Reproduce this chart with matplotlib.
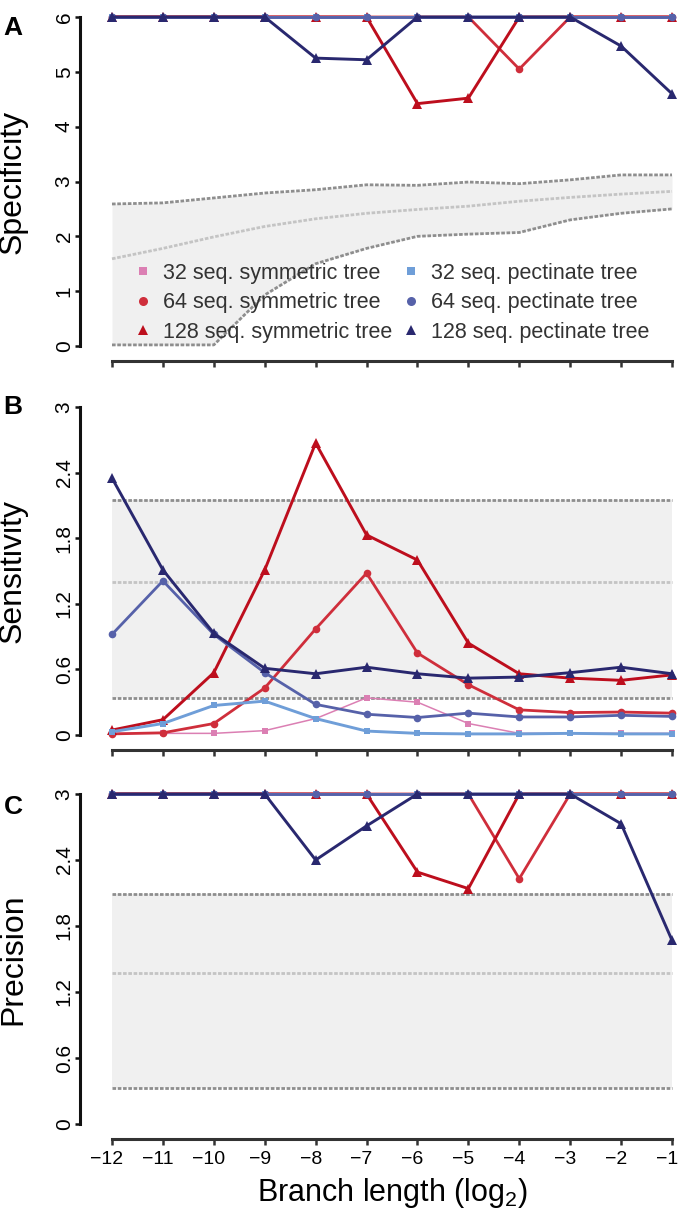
import matplotlib
matplotlib.use('Agg')
import matplotlib.pyplot as plt
from matplotlib.lines import Line2D
from matplotlib.transforms import ScaledTranslation
import numpy as np

plt.rcParams['font.family'] = ['Liberation Sans', 'DejaVu Sans']
plt.rcParams['mathtext.fontset'] = 'custom'
plt.rcParams['mathtext.rm'] = 'Liberation Sans'
plt.rcParams['mathtext.it'] = 'Liberation Sans'

# branch length (log2)
branch = [-12, -11, -10, -9, -8, -7, -6, -5, -4, -3, -2, -1]

series_names = ['32 seq. symmetric tree', '64 seq. symmetric tree', '128 seq. symmetric tree',
                '32 seq. pectinate tree', '64 seq. pectinate tree', '128 seq. pectinate tree']

# A - specificity
spec_sym32 = [6, 6, 6, 6, 6, 6, 6, 6, 6, 6, 6, 6]
spec_sym64 = [6, 6, 6, 6, 6, 6, 6, 6, 5.05, 6, 6, 6]
spec_sym128 = [6, 6, 6, 6, 6, 6, 4.42, 4.52, 6, 6, 6, 6]
spec_pec32 = [6, 6, 6, 6, 6, 6, 6, 6, 6, 6, 6, 6]
spec_pec64 = [6, 6, 6, 6, 6, 6, 6, 6, 6, 6, 6, 6]
spec_pec128 = [6, 6, 6, 6, 5.25, 5.22, 6, 6, 6, 6, 5.47, 4.60]
spec_hi = [2.59, 2.61, 2.70, 2.79, 2.85, 2.94, 2.93, 2.99, 2.96, 3.03, 3.12, 3.12]
spec_mid = [1.59, 1.78, 1.99, 2.18, 2.32, 2.42, 2.49, 2.55, 2.64, 2.71, 2.77, 2.82]
spec_lo = [0.02, 0.02, 0.02, 0.93, 1.50, 1.78, 2.00, 2.04, 2.07, 2.30, 2.42, 2.50]

# B - sensitivity
sens_sym32 = [0.015, 0.015, 0.015, 0.04, 0.15, 0.34, 0.30, 0.105, 0.015, 0.015, 0.015, 0.015]
sens_sym64 = [0.01, 0.02, 0.105, 0.43, 0.97, 1.48, 0.75, 0.46, 0.23, 0.205, 0.21, 0.20]
sens_sym128 = [0.045, 0.14, 0.57, 1.51, 2.67, 1.83, 1.60, 0.84, 0.56, 0.52, 0.50, 0.55]
sens_pec32 = [0.03, 0.105, 0.27, 0.31, 0.15, 0.036, 0.015, 0.01, 0.01, 0.015, 0.01, 0.01]
sens_pec64 = [0.92, 1.41, 0.92, 0.57, 0.28, 0.19, 0.16, 0.20, 0.165, 0.165, 0.18, 0.17]
sens_pec128 = [2.35, 1.51, 0.93, 0.61, 0.56, 0.62, 0.56, 0.52, 0.53, 0.57, 0.62, 0.56]
sens_hi = [2.15] * 12
sens_mid = [1.40] * 12
sens_lo = [0.34] * 12

# C - precision
prec_sym32 = [3, 3, 3, 3, 3, 3, 3, 3, 3, 3, 3, 3]
prec_sym64 = [3, 3, 3, 3, 3, 3, 3, 3, 2.23, 3, 3, 3]
prec_sym128 = [3, 3, 3, 3, 3, 3, 2.29, 2.14, 3, 3, 3, 3]
prec_pec32 = [3, 3, 3, 3, 3, 3, 3, 3, 3, 3, 3, 3]
prec_pec64 = [3, 3, 3, 3, 3, 3, 3, 3, 3, 3, 3, 3]
prec_pec128 = [3, 3, 3, 3, 2.40, 2.71, 3, 3, 3, 3, 2.73, 1.67]
prec_hi = [2.09] * 12
prec_mid = [1.37] * 12
prec_lo = [0.33] * 12

colors = ['#DB7FB3', '#CF2E3B', '#BD0E1D', '#6F9ED8', '#5661A9', '#29286F']
markers = ['s', 'o', '^', 's', 'o', '^']
msizes = [5, 5.5, 6.8, 5, 5.5, 6.8]
lwidths = [1.1, 2.0, 2.1, 2.1, 2.0, 2.1]

W, H = 680, 1214
fig = plt.figure(figsize=(W / 100, H / 100), dpi=100)

x_left_px, x_right_px = 80, 680
x12_px, x1_px = 112, 672
unit_x = (x1_px - x12_px) / 11.0
xlim = (-12 - (x12_px - x_left_px) / unit_x, -1 + (x_right_px - x1_px) / unit_x)


def make_panel(top_px, zero_px, ymax):
    unit = (zero_px - top_px) / ymax
    ax_top = top_px - 12
    ax_bot = zero_px + 15
    ax = fig.add_axes([x_left_px / W, 1 - ax_bot / H, (x_right_px - x_left_px) / W, (ax_bot - ax_top) / H])
    ax.set_xlim(*xlim)
    ax.set_ylim(-(ax_bot - zero_px) / unit, ymax + (top_px - ax_top) / unit)
    ax.patch.set_alpha(0)
    for s in ['top', 'right']:
        ax.spines[s].set_visible(False)
    ax.spines['left'].set_bounds(0, ymax)
    ax.spines['bottom'].set_bounds(-12, -1)
    ax.spines['left'].set_linewidth(2.2)
    ax.spines['bottom'].set_linewidth(2.2)
    ax.spines['left'].set_color('#111111')
    ax.spines['bottom'].set_color('#333333')
    ax.set_xticks(branch)
    ax.tick_params(axis='x', length=4, width=1.8, color='#333333', labelsize=14, pad=5)
    ax.tick_params(axis='y', length=3.5, width=1.8, color='#111111', labelsize=15,
                   labelrotation=90, pad=1)
    return ax


def draw(ax, hi, mid, lo, values):
    ax.fill_between(branch, lo, hi, color='#F0F0F0', lw=0, zorder=1)
    ax.plot(branch, hi, color='#8E8E8E', lw=2.0, ls=(0, (1.3, 0.6)), zorder=2)
    ax.plot(branch, lo, color='#8E8E8E', lw=2.0, ls=(0, (1.3, 0.6)), zorder=2)
    ax.plot(branch, mid, color='#C4C4C4', lw=2.0, ls=(0, (1.3, 0.6)), zorder=2)
    for i, v in enumerate(values):
        ax.plot(branch, v, color=colors[i], lw=lwidths[i], marker=markers[i],
                ms=msizes[i], mew=0, zorder=3 + i, clip_on=False)


axA = make_panel(17, 346, 6)
draw(axA, spec_hi, spec_mid, spec_lo,
     [spec_sym32, spec_sym64, spec_sym128, spec_pec32, spec_pec64, spec_pec128])
axA.set_yticks([0, 1, 2, 3, 4, 5, 6])
axA.set_yticklabels(['0', '1', '2', '3', '4', '5', '6'], va='center')
axA.set_xticklabels([])

axB = make_panel(407, 735, 3)
draw(axB, sens_hi, sens_mid, sens_lo,
     [sens_sym32, sens_sym64, sens_sym128, sens_pec32, sens_pec64, sens_pec128])
axB.set_yticks([0, 0.6, 1.2, 1.8, 2.4, 3])
axB.set_yticklabels(['0', '0.6', '1.2', '1.8', '2.4', '3'], va='center')
axB.set_xticklabels([])

axC = make_panel(794, 1124, 3)
draw(axC, prec_hi, prec_mid, prec_lo,
     [prec_sym32, prec_sym64, prec_sym128, prec_pec32, prec_pec64, prec_pec128])
axC.set_yticks([0, 0.6, 1.2, 1.8, 2.4, 3])
axC.set_yticklabels(['0', '0.6', '1.2', '1.8', '2.4', '3'], va='center')
axC.set_xticklabels([str(b).replace('-', '\u2212') for b in branch])
# labels sit slightly left of their ticks, as in the original
shift = ScaledTranslation(-5 / 100, 0, fig.dpi_scale_trans)
for lab in axC.get_xticklabels():
    lab.set_transform(lab.get_transform() + shift)

handles = [Line2D([], [], ls='none', marker=markers[i], color=colors[i],
                  ms=msizes[i] + 1, mew=0) for i in range(6)]
axA.legend(handles, series_names, ncol=2, loc='upper left', bbox_to_anchor=(0.09, 0.276),
           frameon=False, fontsize=15.5, handlelength=0.8, handletextpad=0.55,
           columnspacing=0.45, labelspacing=0.4, borderaxespad=0, borderpad=0,
           labelcolor='#333333')

# axis titles and panel letters
fig.text(13 / W, 1 - 182 / H, 'Specificity', rotation=90, ha='center', va='center', fontsize=23)
fig.text(13 / W, 1 - 571 / H, 'Sensitivity', rotation=90, ha='center', va='center', fontsize=23)
fig.text(13 / W, 1 - 959 / H, 'Precision', rotation=90, ha='center', va='center', fontsize=23)
fig.text(392 / W, 1 - 1193 / H, 'Branch length (log$_2$)', ha='center', va='center', fontsize=22)
fig.text(13 / W, 1 - 28 / H, 'A', ha='center', va='center', fontsize=19, fontweight='bold')
fig.text(13 / W, 1 - 407 / H, 'B', ha='center', va='center', fontsize=19, fontweight='bold')
fig.text(13 / W, 1 - 807 / H, 'C', ha='center', va='center', fontsize=19, fontweight='bold')

fig.savefig('out.png', dpi=100)
